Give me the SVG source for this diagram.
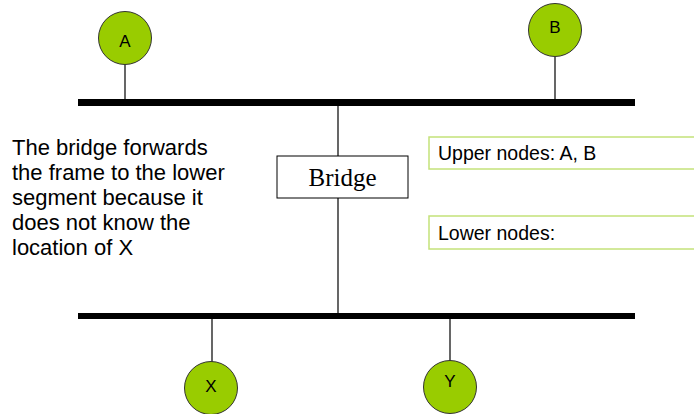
<svg xmlns="http://www.w3.org/2000/svg" width="694" height="414" viewBox="0 0 694 414">
  <style>
    .bus { fill: #000; }
    .wire { stroke: #000; stroke-width: 1.2; fill: none; }
    .station { fill: #99cc00; stroke: #333; stroke-width: 1; }
    .label { font-family: "Liberation Sans", Arial, sans-serif; font-size: 17px; fill: #000; text-anchor: middle; }
    .note { font-family: "Liberation Sans", Arial, sans-serif; font-size: 22px; fill: #000; }
    .table { fill: #fff; stroke: #c4e27a; stroke-width: 1.5; }
    .tabletext { font-family: "Liberation Sans", Arial, sans-serif; font-size: 19.5px; fill: #000; }
    .bridge { fill: #fff; stroke: #000; stroke-width: 1; }
    .bridgetext { font-family: "Liberation Serif", "Times New Roman", serif; font-size: 25px; fill: #000; text-anchor: middle; }
  </style>

  <rect width="694" height="414" fill="#fff"/>

  <!-- LAN segments -->
  <g id="segments">
    <rect class="bus" x="78" y="99" width="557" height="7"/>
    <rect class="bus" x="78" y="313" width="557" height="6"/>
  </g>

  <!-- drop cables and bridge ports -->
  <g id="connectors">
    <line class="wire" x1="125" y1="64" x2="125" y2="99"/>
    <line class="wire" x1="555" y1="57" x2="555" y2="99"/>
    <line class="wire" x1="338" y1="106" x2="338" y2="156"/>
    <line class="wire" x1="338" y1="198" x2="338" y2="313"/>
    <line class="wire" x1="212" y1="319" x2="212" y2="362"/>
    <line class="wire" x1="450" y1="319" x2="450" y2="362"/>
  </g>

  <g id="node-a">
    <circle class="station" cx="125" cy="38" r="26.5"/>
    <text class="label" x="125" y="47">A</text>
  </g>
  <g id="node-b">
    <circle class="station" cx="555" cy="30" r="26.5"/>
    <text class="label" x="555" y="33">B</text>
  </g>
  <g id="node-x">
    <circle class="station" cx="211" cy="388" r="26.5"/>
    <text class="label" x="211" y="392">X</text>
  </g>
  <g id="node-y">
    <circle class="station" cx="450" cy="387" r="26.5"/>
    <text class="label" x="450" y="387">Y</text>
  </g>

  <g id="bridge">
    <rect class="bridge" x="277" y="156" width="131" height="42"/>
    <text class="bridgetext" x="342.5" y="186">Bridge</text>
  </g>

  <g id="upper-table">
    <rect class="table" x="429" y="137" width="270" height="32"/>
    <text class="tabletext" x="438" y="160">Upper nodes: A, B</text>
  </g>
  <g id="lower-table">
    <rect class="table" x="429" y="216" width="270" height="33"/>
    <text class="tabletext" x="438" y="240">Lower nodes:</text>
  </g>

  <g id="explanation">
    <text class="note" x="12" y="155">The bridge forwards</text>
    <text class="note" x="12" y="180">the frame to the lower</text>
    <text class="note" x="12" y="205">segment because it</text>
    <text class="note" x="12" y="230">does not know the</text>
    <text class="note" x="12" y="255">location of X</text>
  </g>
</svg>
